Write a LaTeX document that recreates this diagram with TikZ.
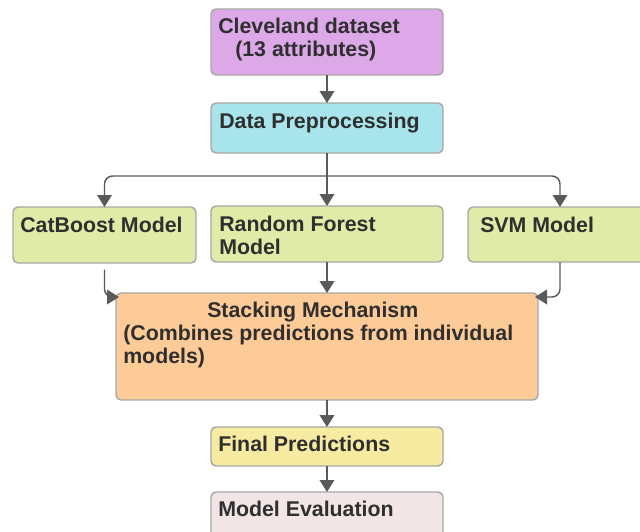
\documentclass[tikz,border=0pt]{standalone}
\usepackage{fontspec}
\setmainfont{Liberation Sans}
\usetikzlibrary{arrows.meta}

\definecolor{lilac}{HTML}{DCA8E8}
\definecolor{cyanish}{HTML}{A8E4EC}
\definecolor{modelgreen}{HTML}{DFEBA7}
\definecolor{peach}{HTML}{FDCB97}
\definecolor{paleyellow}{HTML}{F6EBA0}
\definecolor{palepink}{HTML}{F2E5E5}
\definecolor{boxgray}{HTML}{A8A8A8}
\definecolor{arrgray}{HTML}{5A5A5A}
\definecolor{txtgray}{HTML}{2F2F2F}

\begin{document}
\begin{tikzpicture}[x=0.75pt,y=-0.75pt,
  box/.style={draw=boxgray,line width=1.1pt,rounded corners=3.75pt,inner sep=0pt,outer sep=0pt},
  lbl/.style={anchor=north west,inner sep=0pt,align=left,text=txtgray,font=\fontsize{16}{17.25}\selectfont\bfseries},
  arr/.style={draw=arrgray,line width=1.1pt,-{Triangle[width=11pt,length=9pt]}}]
  \clip (0,0) rectangle (640,532);
  \fill[white] (0,0) rectangle (640,532);

  % boxes
  \node[box,fill=lilac,minimum width=174pt,minimum height=49.5pt] (cleve) at (327,42) {};
  \node[box,fill=cyanish,minimum width=174pt,minimum height=37.5pt] (prep) at (327,128) {};
  \node[box,fill=modelgreen,minimum width=137.25pt,minimum height=42pt] (cat) at (104.5,235) {};
  \node[box,fill=modelgreen,minimum width=174pt,minimum height=42pt] (rf) at (327,234) {};
  \node[box,fill=modelgreen,minimum width=138pt,minimum height=41.25pt] (svm) at (560,234.5) {};
  \node[box,fill=peach,minimum width=316.5pt,minimum height=80.25pt] (stack) at (327,346.5) {};
  \node[box,fill=paleyellow,minimum width=174pt,minimum height=29.25pt] (final) at (327,446.5) {};
  \node[box,fill=palepink,minimum width=174pt,minimum height=39.75pt] (eval) at (327,518.5) {};

  % labels
  \node[lbl] (cleveT) at ([shift={(7,9)}]cleve.north west) {Cleveland dataset\\\hspace*{12.75pt}(13 attributes)};
  \node[lbl] (prepT) at ([shift={(8,10)}]prep.north west) {Data Preprocessing};
  \node[lbl] (catT) at ([shift={(7,10)}]cat.north west) {CatBoost Model};
  \node[lbl] (rfT) at ([shift={(8,10)}]rf.north west) {Random Forest\\Model};
  \node[lbl] (svmT) at ([shift={(12,10)}]svm.north west) {SVM Model};
  \node[lbl] (stackT) at ([shift={(7,9)}]stack.north west) {\hspace*{63pt}Stacking Mechanism\\(Combines predictions from individual\\models)};
  \node[lbl] (finalT) at ([shift={(7,9)}]final.north west) {Final Predictions};
  \node[lbl] (evalT) at ([shift={(7,9)}]eval.north west) {Model Evaluation};

  % connectors
  \coordinate (split) at (327,176);
  \draw[arr] (cleve.south) -- (prep.north);
  \draw[draw=arrgray,line width=1.1pt] (prep.south) -- (split);
  \draw[arr,rounded corners=6pt] (split) -| (cat.north);
  \draw[arr] (split) -- (rf.north);
  \draw[arr,rounded corners=6pt] (split) -| (svm.north);
  \draw[arr,rounded corners=6pt,shorten <=5pt] (cat.south) |- ([shift={(3,4)}]stack.north west);
  \draw[arr] (rf.south) -- (stack.north);
  \draw[arr,rounded corners=6pt] (svm.south) |- ([shift={(-3,4)}]stack.north east);
  \draw[arr] (stack.south) -- (final.north);
  \draw[arr] (final.south) -- (eval.north);
\end{tikzpicture}
\end{document}
